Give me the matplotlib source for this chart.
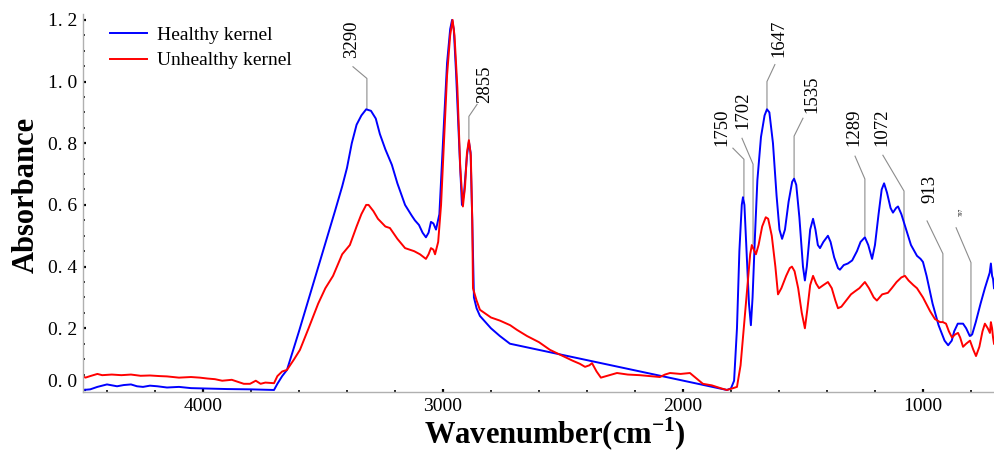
import matplotlib
matplotlib.use("Agg")
import matplotlib.pyplot as plt
import matplotlib.transforms as mtransforms
from matplotlib.ticker import MultipleLocator, FuncFormatter

plt.rcParams['font.family'] = ['Liberation Serif', 'DejaVu Serif']
plt.rcParams['mathtext.fontset'] = 'custom'
plt.rcParams['mathtext.rm'] = 'Liberation Serif:bold'
plt.rcParams['mathtext.bf'] = 'Liberation Serif:bold'

# datos (numero de onda, absorbancia)
wn_sano = [4500, 4470, 4440, 4400, 4380, 4358, 4330, 4300, 4275, 4250, 4221, 4190, 4150, 4100,
           4050, 4000, 3900, 3800, 3704, 3690, 3670, 3650, 3600, 3550, 3500, 3450, 3420, 3400,
           3380, 3360, 3340, 3320, 3300, 3280, 3263, 3240, 3213, 3190, 3158, 3130, 3117, 3100,
           3085, 3071, 3060, 3050, 3040, 3029, 3015, 3008, 2995, 2983, 2970, 2962, 2955, 2945,
           2930, 2921, 2912, 2900, 2892, 2885, 2878, 2871, 2860, 2846, 2800, 2763, 2721, 1817,
           1800, 1787, 1775, 1765, 1755, 1750, 1744, 1735, 1725, 1717, 1710, 1700, 1690, 1675,
           1660, 1650, 1640, 1625, 1610, 1598, 1587, 1575, 1560, 1545, 1537, 1528, 1515, 1500,
           1492, 1484, 1470, 1458, 1448, 1438, 1429, 1415, 1396, 1385, 1370, 1354, 1346, 1330,
           1313, 1295, 1275, 1260, 1242, 1228, 1212, 1200, 1185, 1172, 1162, 1150, 1135, 1125,
           1112, 1104, 1090, 1070, 1050, 1025, 1010, 1000, 985, 960, 935, 910, 895, 880, 870,
           855, 840, 833, 820, 805, 795, 780, 760, 742, 730, 722, 717, 712, 708, 704]
abs_sano = [0.0, 0.002, 0.01, 0.018, 0.015, 0.012, 0.016, 0.018, 0.012, 0.01, 0.014, 0.012, 0.008,
            0.01, 0.006, 0.005, 0.003, 0.002, 0.0, 0.02, 0.045, 0.065, 0.19, 0.32, 0.45, 0.58, 0.66,
            0.72, 0.80, 0.86, 0.89, 0.91, 0.905, 0.88, 0.83, 0.78, 0.73, 0.67, 0.60, 0.565, 0.55,
            0.535, 0.51, 0.495, 0.51, 0.545, 0.54, 0.52, 0.57, 0.68, 0.88, 1.06, 1.17, 1.2, 1.17,
            1.02, 0.75, 0.60, 0.64, 0.76, 0.805, 0.77, 0.55, 0.30, 0.265, 0.24, 0.20, 0.175, 0.15,
            0.0, 0.005, 0.03, 0.20, 0.45, 0.60, 0.625, 0.60, 0.45, 0.28, 0.21, 0.30, 0.50, 0.68,
            0.82, 0.89, 0.91, 0.90, 0.80, 0.63, 0.52, 0.49, 0.52, 0.61, 0.675, 0.685, 0.665, 0.56,
            0.40, 0.355, 0.40, 0.52, 0.555, 0.52, 0.47, 0.46, 0.48, 0.50, 0.48, 0.43, 0.395, 0.39,
            0.405, 0.41, 0.42, 0.45, 0.48, 0.495, 0.47, 0.425, 0.47, 0.57, 0.65, 0.67, 0.64, 0.59,
            0.575, 0.59, 0.595, 0.57, 0.52, 0.47, 0.435, 0.425, 0.415, 0.37, 0.28, 0.21, 0.16,
            0.145, 0.16, 0.19, 0.215, 0.215, 0.215, 0.20, 0.175, 0.18, 0.22, 0.28, 0.33, 0.36,
            0.38, 0.41, 0.37, 0.36, 0.33]

wn_enfermo = [4500, 4490, 4470, 4440, 4420, 4380, 4340, 4300, 4260, 4221, 4180, 4150, 4100, 4050,
              4013, 3980, 3950, 3920, 3880, 3850, 3830, 3804, 3780, 3760, 3740, 3720, 3704, 3690,
              3670, 3650, 3620, 3596, 3560, 3520, 3490, 3458, 3420, 3388, 3360, 3340, 3320, 3310,
              3290, 3271, 3240, 3221, 3190, 3158, 3120, 3096, 3071, 3060, 3050, 3040, 3033, 3020,
              3008, 2995, 2983, 2970, 2960, 2952, 2940, 2928, 2917, 2908, 2900, 2892, 2884, 2878,
              2875, 2860, 2846, 2800, 2763, 2720, 2692, 2650, 2600, 2554, 2500, 2460, 2430, 2408,
              2390, 2379, 2360, 2342, 2320, 2275, 2230, 2180, 2140, 2096, 2075, 2054, 2010, 1971,
              1940, 1917, 1880, 1840, 1817, 1795, 1775, 1760, 1750, 1733, 1720, 1713, 1705, 1696,
              1685, 1670, 1655, 1645, 1630, 1615, 1604, 1590, 1570, 1555, 1546, 1535, 1520, 1505,
              1492, 1482, 1470, 1458, 1445, 1433, 1415, 1396, 1380, 1365, 1354, 1340, 1320, 1300,
              1283, 1265, 1242, 1225, 1205, 1192, 1170, 1146, 1130, 1110, 1090, 1075, 1060, 1040,
              1025, 1000, 970, 950, 929, 917, 904, 892, 879, 866, 854, 845, 833, 820, 804, 790,
              779, 765, 752, 742, 730, 721, 717, 712, 708, 704]
abs_enfermo = [0.045, 0.04, 0.045, 0.052, 0.048, 0.05, 0.048, 0.05, 0.046, 0.047, 0.045, 0.044,
               0.04, 0.042, 0.04, 0.037, 0.035, 0.03, 0.033, 0.025, 0.02, 0.02, 0.03, 0.02, 0.024,
               0.023, 0.022, 0.045, 0.06, 0.065, 0.10, 0.13, 0.20, 0.28, 0.33, 0.37, 0.44, 0.47,
               0.53, 0.57, 0.60, 0.60, 0.58, 0.555, 0.53, 0.525, 0.49, 0.46, 0.45, 0.44, 0.425,
               0.44, 0.46, 0.455, 0.44, 0.48, 0.60, 0.82, 1.02, 1.15, 1.2, 1.15, 0.98, 0.72, 0.595,
               0.66, 0.77, 0.81, 0.76, 0.55, 0.33, 0.29, 0.26, 0.235, 0.225, 0.21, 0.195, 0.175,
               0.155, 0.13, 0.11, 0.095, 0.085, 0.075, 0.08, 0.087, 0.06, 0.04, 0.045, 0.055, 0.05,
               0.048, 0.045, 0.042, 0.05, 0.055, 0.052, 0.055, 0.035, 0.02, 0.015, 0.005, 0.0,
               0.005, 0.01, 0.08, 0.17, 0.32, 0.44, 0.47, 0.455, 0.44, 0.47, 0.53, 0.56, 0.555,
               0.50, 0.40, 0.31, 0.33, 0.37, 0.395, 0.40, 0.385, 0.33, 0.25, 0.20, 0.26, 0.34,
               0.37, 0.345, 0.33, 0.34, 0.35, 0.33, 0.29, 0.265, 0.27, 0.29, 0.31, 0.32, 0.33,
               0.35, 0.33, 0.30, 0.29, 0.31, 0.315, 0.33, 0.35, 0.365, 0.37, 0.355, 0.34, 0.33,
               0.30, 0.255, 0.23, 0.22, 0.22, 0.215, 0.19, 0.17, 0.18, 0.185, 0.17, 0.14, 0.15,
               0.16, 0.13, 0.11, 0.14, 0.19, 0.215, 0.20, 0.185, 0.22, 0.20, 0.17, 0.15]

# etiquetas de picos
etiquetas = ["3290", "2855", "1750", "1702", "1647", "1535", "1289", "1072", "913", "797"]
x_linea = [3317, 2892, 1746, 1708, 1650, 1537, 1242, 1079, 917, 800]
y_pico = [0.91, 0.806, 0.623, 0.474, 0.91, 0.684, 0.50, 0.371, 0.219, 0.174]
y_codo = [1.01, 0.887, 0.748, 0.732, 1.0, 0.823, 0.684, 0.645, 0.442, 0.413]
x_fin = [3375, 2858, 1792, 1754, 1617, 1500, 1283, 1167, 983, 862]
y_fin = [1.048, 0.926, 0.784, 0.816, 1.055, 0.881, 0.758, 0.761, 0.548, 0.526]
x_texto = [3379, 2825, 1837, 1750, 1600, 1462, 1287, 1171, 971, 842]
y_texto = [1.077, 0.929, 0.79, 0.845, 1.081, 0.897, 0.79, 0.79, 0.606, 0.565]
tam_texto = [13.5, 13.5, 13.5, 13.5, 13.5, 13.5, 13.5, 13.5, 13.5, 4]

fig = plt.figure(figsize=(9.95, 4.53), dpi=100)
ax = fig.add_axes([0.0834, 0.1347, 0.9156, 0.8344])

ax.plot(wn_sano, abs_sano, color='#0000ff', lw=1.4, label='Healthy kernel')
ax.plot(wn_enfermo, abs_enfermo, color='#ff0000', lw=1.4, label='Unhealthy kernel')

for i in range(len(etiquetas)):
    ax.plot([x_linea[i], x_linea[i], x_fin[i]], [y_pico[i], y_codo[i], y_fin[i]],
            color='#8c8c8c', lw=0.8, zorder=1)
    ax.text(x_texto[i], y_texto[i], etiquetas[i], rotation=90, ha='center', va='bottom',
            fontsize=tam_texto[i])

ax.set_xlim(4500, 704)
ax.set_ylim(-0.0065, 1.219)

ax.xaxis.set_major_locator(MultipleLocator(1000))
ax.xaxis.set_minor_locator(MultipleLocator(200))
ax.yaxis.set_major_locator(MultipleLocator(0.2))
ax.yaxis.set_minor_locator(MultipleLocator(0.05))
ax.yaxis.set_major_formatter(FuncFormatter(lambda v, p: f"{v:.1f}".replace('.', '. ')))

ax.tick_params(which='both', direction='in', color='black', labelsize=14)
ax.tick_params(which='major', length=2.5, width=1.6, pad=4)
ax.tick_params(which='minor', length=1.5, width=1.2)

for lado in ['top', 'right']:
    ax.spines[lado].set_visible(False)
for lado in ['left', 'bottom']:
    ax.spines[lado].set_color('#b0b0b0')
    ax.spines[lado].set_linewidth(1.0)

# la etiqueta 0.0 esta algo mas arriba en el original
fig.canvas.draw()
for lab in ax.get_yticklabels():
    if lab.get_text().startswith('0. 0'):
        lab.set_transform(lab.get_transform() + mtransforms.ScaledTranslation(0, 9 / 100, fig.dpi_scale_trans))

ax.set_ylabel('Absorbance', fontsize=22, fontweight='bold')
ax.yaxis.set_label_coords(-0.046, 0.52)
ax.set_xlabel(r'Wavenumber(cm$^{\mathbf{-1}}$)', fontsize=22, fontweight='bold')
ax.xaxis.set_label_coords(0.518, -0.062)

ax.legend(loc='upper left', bbox_to_anchor=(0.0296, 0.968), frameon=False, fontsize=14,
          handlelength=1.9, handletextpad=0.5, labelspacing=0.42, borderaxespad=0, borderpad=0)

fig.savefig('out.png', dpi=100)
